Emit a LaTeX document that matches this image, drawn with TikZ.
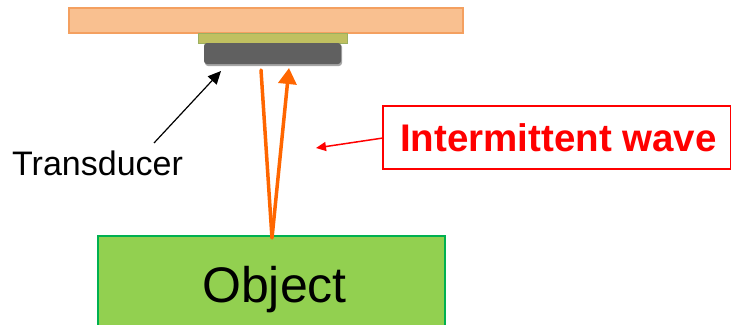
\documentclass[tikz,border=0pt]{standalone}
\usepackage{fontspec}
\setmainfont{Liberation Sans}
\usetikzlibrary{arrows.meta}
\definecolor{plateFill}{HTML}{F9C090}
\definecolor{plateDraw}{HTML}{F4A060}
\definecolor{stripFill}{HTML}{C0C060}
\definecolor{stripDraw}{HTML}{9CB060}
\definecolor{transFill}{HTML}{606060}
\definecolor{waveCol}{HTML}{FF6600}
\definecolor{objFill}{HTML}{92D050}
\definecolor{objDraw}{HTML}{00B050}
\definecolor{labRed}{HTML}{FF0000}
\begin{document}
\begin{tikzpicture}[x=1pt,y=-1pt,
  block/.style={draw, line width=1.2pt, inner sep=0pt, outer sep=0pt, anchor=north west},
  wave/.style={draw=waveCol, line width=3.5pt},
  txt/.style={inner sep=0pt, anchor=base west}]
\useasboundingbox (0,0) rectangle (731,324);
% plate
\node[block, draw=plateDraw, fill=plateFill, minimum width=394pt, minimum height=25pt] (plate) at (69,8) {};
% strip
\node[block, draw=stripDraw, line width=0.6pt, fill=stripFill, minimum width=149pt, minimum height=10pt] (strip) at (198,33) {};
% transducer
\fill[black!35, rounded corners=3pt] (205,44) rectangle (342,66);
\node[block, draw=none, fill=transFill, rounded corners=3pt, minimum width=137pt, minimum height=21pt] (trans) at (204,43) {};
% object
\node[block, draw=objDraw, fill=objFill, minimum width=347pt, minimum height=95pt] (obj) at (98,236) {};
\node[txt, font=\fontsize{50}{55}\selectfont] (objtxt) at (202,302) {Object};
% waves
\coordinate (down) at (261,70);
\coordinate (hit) at (272,238);
\coordinate (up) at (289,68);
\draw[wave, line cap=round] (down) -- (hit);
\draw[wave, -{Triangle[length=16pt,width=18pt]}] (hit) -- (up);
% label
\node[block, draw=labRed, line width=1.5pt, minimum width=348pt, minimum height=63pt] (lab) at (383,106) {};
\node[txt, font=\fontsize{38.5}{40}\selectfont\bfseries, text=labRed] (labtxt) at (400,151) {Intermittent wave};
\coordinate (labtip) at (316,148);
\draw[labRed, line width=1.5pt, -{Triangle[length=10pt,width=9pt]}] (lab.west |- 0,138) -- (labtip);
% transducer label
\node[txt, font=\fontsize{34}{38}\selectfont] (tlab) at (12,175) {Transducer};
\coordinate (tstart) at (154,143);
\coordinate (ttip) at (221,71);
\draw[black, line width=1.2pt, -{Triangle[length=13pt,width=12pt]}] (tstart) -- (ttip);
\end{tikzpicture}
\end{document}
